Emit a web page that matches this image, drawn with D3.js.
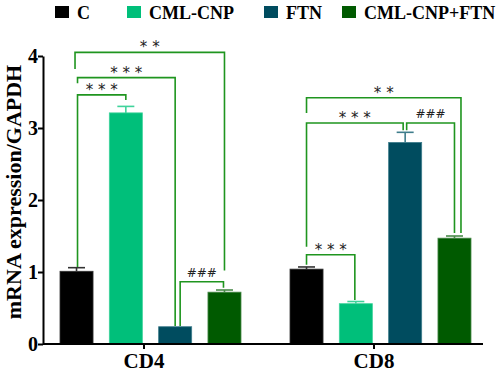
<!DOCTYPE html>
<html>
<head>
<meta charset="utf-8">
<script src="https://cdn.jsdelivr.net/npm/d3@7"></script>
<style>
  body { margin: 0; background: #fff; }
  text { font-family: "Liberation Serif", "Times New Roman", serif; font-weight: bold; }
</style>
</head>
<body>
<script>
const groups = ["CD4", "CD8"];
const series = ["C", "CML-CNP", "FTN", "CML-CNP+FTN"];
const colors = ["#000000", "#00bf7a", "#004c5f", "#005a00"];
const errColors = ["#333333", "#3fd39b", "#3f7d8c", "#4a8a4a"];

// means and upper error, per group, in series order
const means = {
  "CD4": [1.01, 3.21, 0.24, 0.72],
  "CD8": [1.04, 0.56, 2.80, 1.47]
};
const errs = {
  "CD4": [0.05, 0.09, 0.0, 0.03],
  "CD8": [0.03, 0.03, 0.14, 0.03]
};
const yTicks = [0, 1, 2, 3, 4];

// significance brackets: group, from bar a to bar b, bracket level, leg bottoms, label
const comparisons = [
  {g: "CD4", a: 0, b: 1, level: 3.46, legA: 1.07, legB: 3.39, label: "***"},
  {g: "CD4", a: 0, b: 2, level: 3.70, legA: 3.62, legB: 0.25, label: "***"},
  {g: "CD4", a: 0, b: 3, level: 4.05, legA: 3.82, legB: 1.02, label: "**"},
  {g: "CD4", a: 2, b: 3, level: 0.865, legA: 0.25, legB: 0.78, label: "###"},
  {g: "CD8", a: 0, b: 1, level: 1.24, legA: 1.10, legB: 0.61, label: "***"},
  {g: "CD8", a: 0, b: 2, level: 3.07, legA: 1.35, legB: 2.97, label: "***"},
  {g: "CD8", a: 2, b: 3, level: 3.07, legA: 2.97, legB: 1.54, label: "###"},
  {g: "CD8", a: 0, b: 3, level: 3.42, legA: 3.21, legB: 1.54, label: "**"}
];
// small horizontal nudges of bracket legs, so neighbouring legs don't overlap
const legNudge = [[1, 0], [1, 0], [-1.5, 0], [5, -1], [0, -1], [0, -2], [1.5, 0], [0, 6.5]];

const W = 498, H = 373;
const svg = d3.select("body").append("svg").attr("width", W).attr("height", H);

const y = d3.scaleLinear().domain([0, 4]).range([344, 56]);
const x0 = d3.scaleBand().domain(groups).range([29, 489]);
const x1 = d3.scaleBand().domain(d3.range(series.length))
    .range([-84, 97]).paddingInner(0.33).paddingOuter(0);

const barX = (g, i) => x0(g) + x0.bandwidth() / 2 + x1(i);
const barC = (g, i) => barX(g, i) + x1.bandwidth() / 2;

// bars
const rows = [];
groups.forEach(g => series.forEach((s, i) => rows.push({g, i, v: means[g][i], e: errs[g][i]})));

svg.append("g").selectAll("rect").data(rows).enter().append("rect")
    .attr("x", d => barX(d.g, d.i))
    .attr("y", d => y(d.v))
    .attr("width", x1.bandwidth())
    .attr("height", d => y(0) - y(d.v))
    .attr("fill", d => colors[d.i])
    .attr("stroke", d => errColors[d.i])
    .attr("stroke-width", 0.8);

// error bars (upper only)
const eb = svg.append("g").selectAll("g").data(rows.filter(d => d.e > 0)).enter().append("g")
    .attr("stroke", d => errColors[d.i]).attr("stroke-width", 1.6);
eb.append("line")
    .attr("x1", d => barC(d.g, d.i)).attr("x2", d => barC(d.g, d.i))
    .attr("y1", d => y(d.v)).attr("y2", d => y(d.v + d.e));
eb.append("line")
    .attr("x1", d => barC(d.g, d.i) - 8.5).attr("x2", d => barC(d.g, d.i) + 8.5)
    .attr("y1", d => y(d.v + d.e)).attr("y2", d => y(d.v + d.e));

// axes
const yAxis = svg.append("g").attr("transform", "translate(43,0)")
    .call(d3.axisLeft(y).tickValues(yTicks).tickFormat(d3.format("d")).tickSize(5).tickSizeOuter(0));
const xAxis = svg.append("g").attr("transform", `translate(0,${y(0)})`)
    .call(d3.axisBottom(x0).tickSize(5).tickSizeOuter(0));
[yAxis, xAxis].forEach(a => {
  a.select(".domain").attr("stroke", "#000").attr("stroke-width", 2);
  a.selectAll(".tick line").attr("stroke", "#000").attr("stroke-width", 2);
  a.selectAll("text").attr("fill", "#000")
   .style("font-family", "'Liberation Serif', serif").style("font-weight", "bold");
});
xAxis.select(".domain").attr("d", `M43,0H483`);
yAxis.selectAll("text").attr("x", -5).attr("dy", "0.34em").style("font-size", "20px");
xAxis.selectAll("text").attr("y", 9).style("font-size", "21px");

svg.append("text")
    .attr("transform", `translate(21,192) rotate(-90)`)
    .attr("text-anchor", "middle")
    .style("font-size", "22px")
    .text("mRNA expression/GAPDH");

// significance brackets
const br = svg.append("g").attr("fill", "none").attr("stroke", "#1f951f").attr("stroke-width", 1.6);
comparisons.forEach((c, k) => {
  const xa = barC(c.g, c.a) + legNudge[k][0];
  const xb = barC(c.g, c.b) + legNudge[k][1];
  const yl = y(c.level);
  br.append("path")
    .attr("d", `M${xa},${y(c.legA)}V${yl}H${xb}V${y(c.legB)}`);
  svg.append("text")
    .attr("x", (xa + xb) / 2)
    .attr("y", yl - (c.label === "###" ? 5 : 0))
    .attr("text-anchor", "middle")
    .style("font-size", c.label === "###" ? "12px" : "15px")
    .style("font-family", "'DejaVu Sans', sans-serif")
    .style("font-weight", "normal")
    .attr("fill", "#222")
    .text(c.label === "###" ? c.label : c.label.split("").join(" "));
});

// legend
const legX = [55, 127, 264, 342];
const leg = svg.append("g").selectAll("g").data(series).enter().append("g")
    .attr("transform", (d, i) => `translate(${legX[i]},6)`);
leg.append("rect").attr("width", 14).attr("height", 12).attr("fill", (d, i) => colors[i]);
leg.append("text").attr("x", 22).attr("y", 12.5)
    .style("font-size", "18px").text(d => d);
</script>
</body>
</html>
